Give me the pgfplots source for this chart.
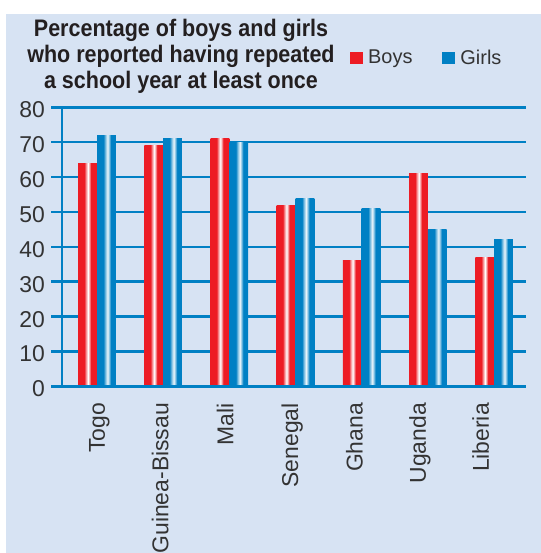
\documentclass[border=0pt]{standalone}
\usepackage{fontspec}
\setmainfont{Liberation Sans}
\newfontfamily\titlefont{Liberation Sans}[FakeStretch=0.9]
\usepackage{pgfplots}
\pgfplotsset{compat=1.18}

\definecolor{bgblue}{RGB}{215,227,243}
\definecolor{gridblue}{RGB}{0,128,196}
\definecolor{bred}{RGB}{237,28,36}
\definecolor{gblue}{RGB}{0,128,196}
\definecolor{txt}{RGB}{51,51,51}
\definecolor{ttl}{RGB}{35,31,32}

% stripe highlight across each bar (25bp..75bp is fitted to the bar)
\pgfdeclarehorizontalshading{boyshade}{100bp}{color(0bp)=(bred); color(41bp)=(bred);
  color(46bp)=(bred!45!white); color(51bp)=(white); color(55bp)=(bred!45!white);
  color(59bp)=(bred); color(100bp)=(bred)}
\pgfdeclarehorizontalshading{girlshade}{100bp}{color(0bp)=(gblue); color(42bp)=(gblue);
  color(48bp)=(gblue!45!white); color(53bp)=(gblue!8!white); color(57bp)=(gblue!45!white);
  color(62bp)=(gblue); color(100bp)=(gblue)}

% one pair of bars per country: x, boys, girls
\newcommand\bars[3]{%
  \addplot[ybar, bar width=0.284, bar shift=-0.142, draw=none, shading=boyshade, forget plot]
    coordinates {(#1,#2)};
  \addplot[ybar, bar width=0.284, bar shift=0.142, draw=none, shading=girlshade, forget plot]
    coordinates {(#1,#3)};
}

\begin{document}
\begin{tikzpicture}[x=1bp,y=1bp]
\useasboundingbox (0,0) rectangle (541,553);
\fill[white] (0,0) rectangle (541,553);
\fill[bgblue] (6,0) rectangle (541,539);

\begin{scope}[every node/.style={anchor=base, inner sep=0pt, text=ttl,
    font=\titlefont\bfseries\fontsize{24}{26}\selectfont}]
\node at (181,516.3) {Percentage of boys and girls};
\node at (181,490.7) {who reported having repeated};
\node at (181,464) {a school year at least once};
\end{scope}

\begin{axis}[
  at={(62bp,166.5bp)}, anchor=south west,
  scale only axis, width=464bp, height=279.2bp,
  xmin=-0.529, xmax=6.483, ymin=0, ymax=80,
  clip=false,
  axis line style={draw=none},
  ytick={0,10,...,80},
  ytick pos=left,
  tick align=outside,
  major tick length=11bp,
  ytick style={draw=gridblue, line width=2.6bp},
  xtick style={draw=none},
  ymajorgrids,
  major grid style={draw=gridblue, line width=2.6bp},
  /pgf/number format/assume math mode=true,
  yticklabel style={font=\fontsize{23}{23}\selectfont, text=txt, inner sep=0pt, anchor=east, yshift=-2.5bp},
  yticklabel shift=6bp,
  xtick={0.12,1.078,2.06,3.04,4.015,4.97,5.92},
  xticklabels={Togo,Guinea-Bissau,Mali,Senegal,Ghana,Uganda,Liberia},
  xticklabel style={font=\fontsize{23}{23}\selectfont, text=txt, inner sep=0pt, rotate=90, anchor=base east},
  xticklabel shift=5.5bp,
  legend columns=2,
  legend style={at={(axis description cs:0.6207,1.178)}, anchor=west, draw=none, fill=none,
    inner sep=0pt, font=\fontsize{20}{20}\selectfont, text=txt,
    /tikz/every even column/.append style={column sep=28bp}},
  legend image code/.code={\fill[#1] (0bp,-6bp) rectangle (12.5bp,6bp); \path (16bp,0bp);},
]
\bars{0}{64}{72}
\bars{1}{69}{71}
\bars{2}{71}{70}
\bars{3}{52}{54}
\bars{4}{36}{51}
\bars{5}{61}{45}
\bars{6}{37}{42}
\addlegendimage{fill=bred, draw=none}
\addlegendentry{Boys}
\addlegendimage{fill=gblue, draw=none}
\addlegendentry{Girls}
\draw[gridblue, line width=2.6bp] ([xshift=-11bp]rel axis cs:0,0) -- (rel axis cs:1,0);
\draw[gridblue, line width=2.2bp] (rel axis cs:0,0) -- (rel axis cs:0,1);
\end{axis}
\end{tikzpicture}
\end{document}
